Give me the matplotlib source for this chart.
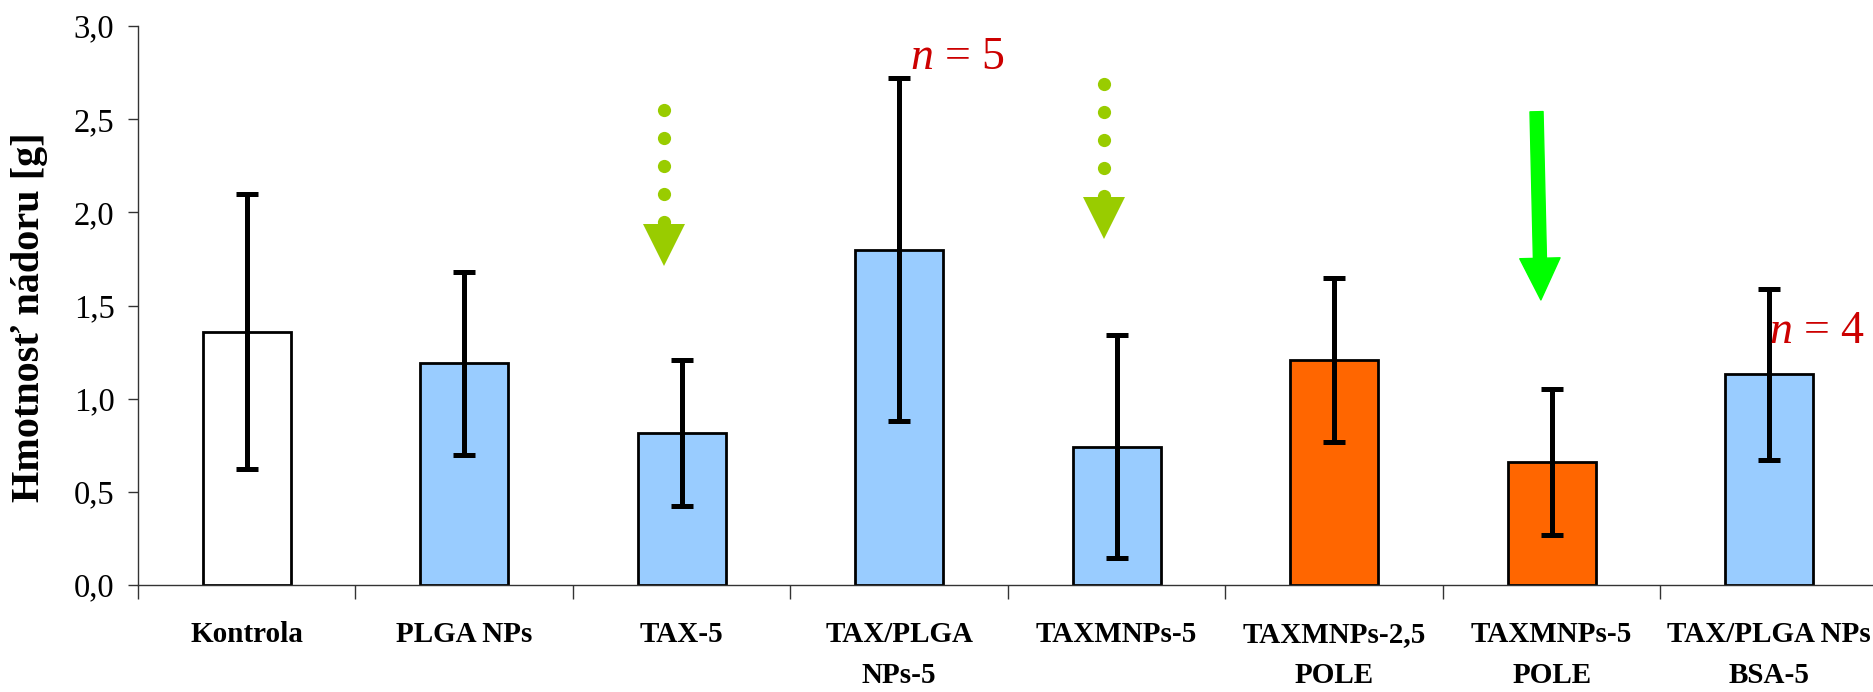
import numpy as np
import matplotlib
matplotlib.use("Agg")
import matplotlib.pyplot as plt
from matplotlib.patches import FancyArrowPatch
from matplotlib.ticker import FixedLocator, FixedFormatter, NullFormatter

# ---- data ----
categories = ["Kontrola", "PLGA NPs", "TAX-5", "TAX/PLGA\nNPs-5", "TAXMNPs-5",
              "TAXMNPs-2,5\nPOLE", "TAXMNPs-5\nPOLE", "TAX/PLGA NPs\nBSA-5"]
means = [1.36, 1.19, 0.816, 1.80, 0.743, 1.205, 0.66, 1.13]
errors = [0.74, 0.49, 0.39, 0.92, 0.60, 0.44, 0.39, 0.46]
bar_colors = ["#FFFFFF", "#99CCFF", "#99CCFF", "#99CCFF", "#99CCFF",
              "#FF6600", "#FF6600", "#99CCFF"]
ytick_values = [0.0, 0.5, 1.0, 1.5, 2.0, 2.5, 3.0]
ytick_labels = ["0,0", "0,5", "1,0", "1,5", "2,0", "2,5", "3,0"]
ylabel = "Hmotnosť nádoru [g]"

# annotations: (x, y) in data units
dotted_arrows = [  # x, y_start, y_end_of_dots, triangle_center_y
    (1.92, 2.55, 1.95, 1.825),
    (3.94, 2.69, 2.09, 1.97),
]
solid_arrow = ((5.93, 2.54), (5.95, 1.53))
n_labels = [(3.05, 2.77, "$n$ = 5"), (7.00, 1.30, "$n$ = 4")]

# ---- style ----
plt.rcParams['font.family'] = ['Liberation Serif', 'DejaVu Serif']
plt.rcParams['mathtext.fontset'] = 'custom'
plt.rcParams['mathtext.it'] = 'Liberation Serif:italic'
plt.rcParams['mathtext.rm'] = 'Liberation Serif'

W, H, DPI = 1874, 692, 100
fig = plt.figure(figsize=(W / DPI, H / DPI), dpi=DPI)
left, bottom = 138 / W, (H - 585) / H
right, top = 1878 / W, (H - 26) / H
ax = fig.add_axes([left, bottom, right - left, top - bottom])

x = np.arange(len(categories))
ax.bar(x, means, width=0.405, color=bar_colors, edgecolor="black",
       linewidth=2.0, zorder=2)
ax.errorbar(x, means, yerr=errors, fmt="none", ecolor="black",
            elinewidth=3.6, capsize=8, capthick=3.6, zorder=3)

ax.set_xlim(-0.5, len(categories) - 0.5)
ax.set_ylim(0, 3.0)

for s in ("top", "right"):
    ax.spines[s].set_visible(False)
for s in ("left", "bottom"):
    ax.spines[s].set_color("#333333")
    ax.spines[s].set_linewidth(1.0)

ax.yaxis.set_major_locator(FixedLocator(ytick_values))
ax.yaxis.set_major_formatter(FixedFormatter(ytick_labels))
ax.tick_params(axis="y", direction="out", length=7, width=1.0,
               color="#333333", labelsize=23.5, pad=10)

# x: ticks at category boundaries, labels at centres
ax.xaxis.set_major_locator(FixedLocator(np.arange(len(categories) + 1) - 0.5))
ax.xaxis.set_major_formatter(NullFormatter())
ax.xaxis.set_minor_locator(FixedLocator(x))
ax.xaxis.set_minor_formatter(FixedFormatter(categories))
ax.tick_params(axis="x", which="major", direction="out", length=10,
               width=1.0, color="#333333")
ax.tick_params(axis="x", which="minor", length=0, pad=26, labelsize=21)
for lbl in ax.xaxis.get_minorticklabels():
    lbl.set_fontweight("bold")
    lbl.set_linespacing(1.64)

fig.text(30 / W, (H - 317) / H, ylabel, fontsize=29, fontweight="bold",
         rotation=90, ha="center", va="center")

# dotted green arrows
for xa, y0, y1, ytri in dotted_arrows:
    ys = np.linspace(y0, y1, 5)
    ax.plot([xa] * len(ys), ys, linestyle="none", marker="o",
            markersize=9.5, color="#99CC00", markeredgewidth=0, zorder=4,
            clip_on=False)
    ax.plot([xa], [ytri], linestyle="none", marker="v", markersize=30,
            color="#99CC00", markeredgewidth=0, zorder=4, clip_on=False)

# solid bright green arrow
arr = FancyArrowPatch(solid_arrow[0], solid_arrow[1],
                      arrowstyle="simple,head_length=30,head_width=29,tail_width=9.4",
                      mutation_scale=1, color="#00FF00", shrinkA=0, shrinkB=0,
                      zorder=4)
ax.add_patch(arr)

for xn, yn, txt in n_labels:
    ax.text(xn, yn, txt, color="#CC0000", fontsize=33, ha="left",
            va="baseline", zorder=5, clip_on=False)

fig.savefig("out.png", dpi=DPI)
